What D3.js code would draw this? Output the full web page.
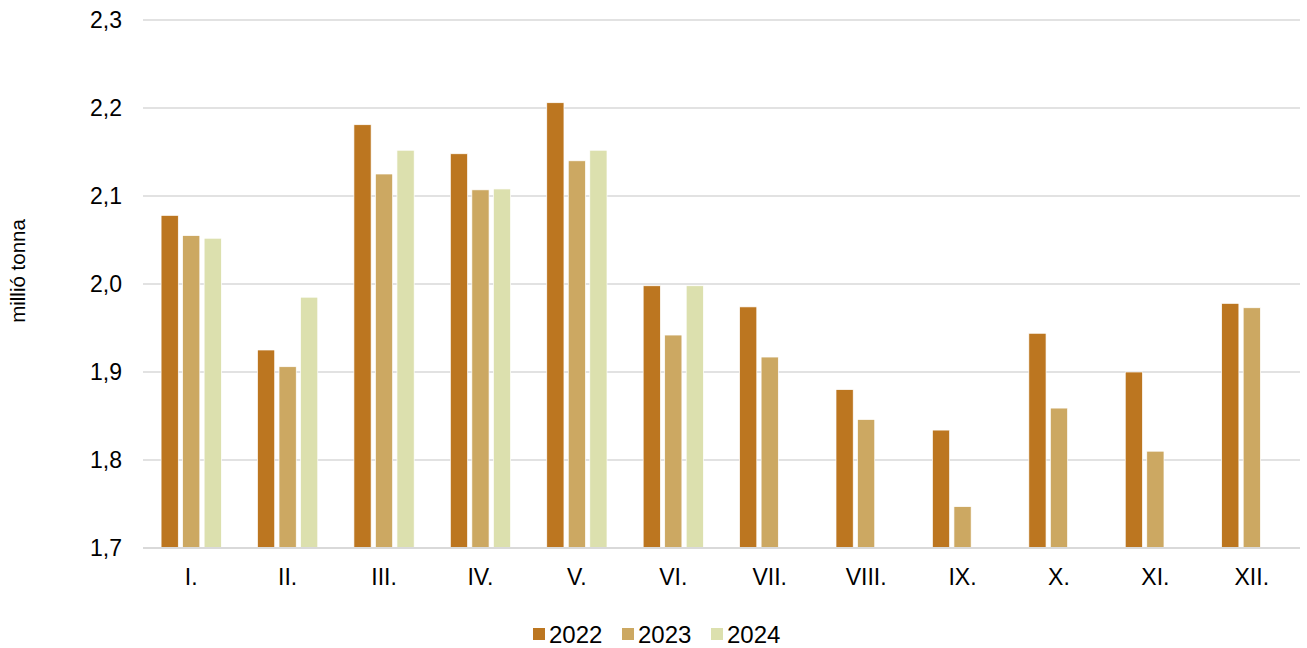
<!DOCTYPE html>
<html><head><meta charset="utf-8">
<script src="https://cdn.jsdelivr.net/npm/d3@7"></script>
<style>body{margin:0;background:#fff}svg{display:block}text{font-family:"Liberation Sans",Arial,sans-serif;fill:#000}</style>
</head><body><svg id="c" width="1307" height="648"></svg>
<script>
const months = ["I.","II.","III.","IV.","V.","VI.","VII.","VIII.","IX.","X.","XI.","XII."];
const seriesNames = ["2022","2023","2024"];
const v2022 = [2.078,1.925,2.181,2.148,2.206,1.998,1.974,1.880,1.834,1.944,1.900,1.978];
const v2023 = [2.055,1.906,2.125,2.107,2.140,1.942,1.917,1.846,1.747,1.859,1.810,1.973];
const v2024 = [2.052,1.985,2.152,2.108,2.152,1.998,null,null,null,null,null,null];
const yTicks = [1.7,1.8,1.9,2.0,2.1,2.2,2.3];
const colors = ["#BC7620","#CCA862","#DCE0AE"];
const series = [v2022,v2023,v2024];

const svg = d3.select("#c");
const L=143, R=1300, T=20, B=548;
const x = d3.scaleBand().domain(months).range([L,R]).paddingInner(0.375).paddingOuter(0.1875);
const xs = d3.scaleBand().domain(seriesNames).range([0,x.bandwidth()]).paddingInner(0.2);
const y = d3.scaleLinear().domain([1.7,2.3]).range([B,T]);
const fmt = d => d.toFixed(1).replace(".",",");

svg.append("g").selectAll("line").data(yTicks).join("line")
  .attr("x1",L).attr("x2",R).attr("y1",d=>y(d)).attr("y2",d=>y(d))
  .attr("stroke","#d9d9d9").attr("stroke-width",1.5);
svg.append("g").selectAll("text").data(yTicks).join("text")
  .attr("x",122).attr("y",d=>y(d)).attr("dy","0.35em").attr("text-anchor","end")
  .style("font-size","23px").text(fmt);

series.forEach((vals,si)=>{
  svg.append("g").selectAll("rect").data(months.map((m,i)=>({m,v:vals[i]})).filter(d=>d.v!=null)).join("rect")
    .attr("x",d=>x(d.m)+xs(seriesNames[si])).attr("width",xs.bandwidth())
    .attr("y",d=>y(d.v)).attr("height",d=>B-y(d.v))
    .attr("fill",colors[si]).attr("stroke","#fff").attr("stroke-width",0.7);
});
svg.append("line").attr("x1",L).attr("x2",R).attr("y1",B).attr("y2",B).attr("stroke","#d9d9d9").attr("stroke-width",2);

svg.append("g").selectAll("text").data(months).join("text")
  .attr("x",d=>x(d)+x.bandwidth()/2).attr("y",585).attr("text-anchor","middle")
  .style("font-size","23px").text(d=>d);

svg.append("text").attr("transform","translate(25,271) rotate(-90)").attr("text-anchor","middle")
  .style("font-size","20.5px").text("millió tonna");

const lg = svg.append("g");
const lx=[533,622,711];
seriesNames.forEach((s,i)=>{
  lg.append("rect").attr("x",lx[i]).attr("y",628).attr("width",12).attr("height",12).attr("fill",colors[i]);
  lg.append("text").attr("x",lx[i]+16).attr("y",643).style("font-size","24px").text(s);
});
</script></body></html>
